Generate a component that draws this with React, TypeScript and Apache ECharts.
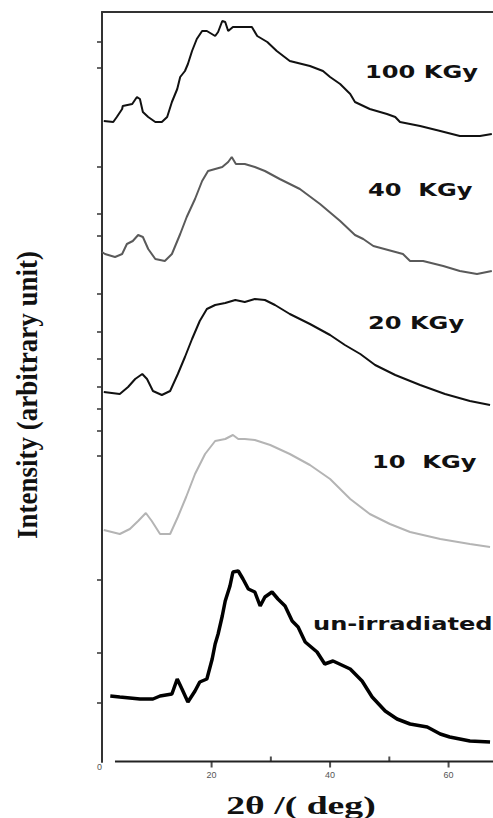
import React, { useEffect, useRef } from "react";
import * as echarts from "echarts";

// 2θ (deg) vs intensity (arbitrary, stacked with offsets)
const kgy100: [number, number][] = [
  [1.8, 641], [3.4, 640], [4.0, 645], [4.9, 653], [5.0, 656], [6.6, 658], [7.4, 665], [7.9, 663],
  [8.4, 650], [9.3, 645], [10.5, 640], [11.6, 640], [12.5, 645], [13.3, 660], [14.2, 673], [14.7, 685],
  [15.5, 691], [16.0, 698], [16.7, 711], [17.5, 723], [18.4, 731], [19.2, 731], [20.6, 726], [21.1, 730],
  [21.8, 741], [22.3, 740], [22.8, 731], [23.6, 735], [26.8, 735], [27.7, 726], [29.4, 720], [31.0, 711],
  [33.2, 701], [36.6, 696], [38.8, 691], [40.0, 685], [41.7, 678], [43.4, 668], [44.2, 660], [46.7, 653],
  [49.6, 648], [51.0, 645], [51.8, 640], [55.2, 636], [58.6, 631], [61.9, 626], [65.3, 626], [67.3, 628],
];

const kgy40: [number, number][] = [
  [1.5, 510], [2.0, 508], [3.7, 505], [4.9, 508], [5.7, 518], [6.7, 521], [7.6, 527], [8.4, 525],
  [9.3, 513], [10.5, 503], [12.1, 501], [13.3, 508], [14.7, 528], [15.8, 545], [17.2, 563], [18.4, 581],
  [19.4, 591], [20.6, 593], [21.8, 595], [22.8, 600], [23.4, 605], [24.1, 598], [25.6, 598], [27.3, 595],
  [29.0, 591], [31.5, 583], [34.9, 573], [38.3, 558], [41.7, 541], [44.2, 527], [45.6, 523], [47.3, 516],
  [52.3, 508], [53.5, 501], [55.7, 501], [59.1, 496], [61.9, 491], [64.8, 488], [67.3, 491],
];

const kgy20: [number, number][] = [
  [1.8, 370], [4.5, 368], [5.9, 375], [7.1, 383], [8.3, 388], [9.1, 383], [10.1, 371], [11.6, 367],
  [13.0, 371], [14.3, 388], [15.5, 405], [16.7, 423], [18.0, 441], [19.2, 453], [20.6, 457], [22.3, 459],
  [24.0, 462], [25.6, 460], [27.3, 463], [29.0, 462], [30.7, 457], [33.2, 448], [36.6, 438], [40.0, 427],
  [42.5, 417], [45.1, 408], [47.6, 397], [51.0, 387], [55.2, 377], [59.4, 368], [63.6, 361], [67.0, 357],
];

const kgy10: [number, number][] = [
  [1.8, 232], [4.5, 228], [6.2, 233], [7.6, 241], [8.9, 249], [9.9, 241], [11.3, 228], [13.0, 228],
  [14.3, 245], [15.7, 265], [17.2, 288], [18.9, 308], [20.6, 321], [22.3, 323], [23.6, 327], [24.5, 323],
  [25.6, 323], [27.3, 322], [29.9, 317], [33.2, 308], [36.6, 297], [40.0, 283], [43.4, 263], [46.7, 248],
  [50.1, 238], [53.5, 230], [58.6, 223], [63.6, 218], [67.0, 215],
];

const unirradiated: [number, number][] = [
  [2.9, 66], [4.5, 65], [7.9, 63], [10.1, 63], [11.3, 66], [13.3, 68], [14.2, 83], [15.0, 73],
  [16.0, 60], [17.2, 71], [18.0, 80], [19.2, 83], [20.1, 103], [20.6, 118], [21.1, 128], [21.8, 146],
  [22.3, 161], [23.1, 176], [23.6, 190], [24.5, 191], [25.3, 183], [26.2, 173], [27.3, 170], [28.2, 156],
  [29.0, 165], [30.2, 170], [31.2, 163], [32.4, 156], [33.6, 141], [34.6, 135], [35.8, 120], [37.8, 110],
  [39.1, 98], [40.5, 101], [43.4, 93], [45.4, 81], [47.1, 65], [49.3, 51], [51.3, 43], [53.5, 38],
  [56.4, 35], [58.6, 28], [60.2, 25], [63.6, 21], [67.0, 20],
];

const xAxisStart = 3.69;
const xMajorTicks = [20, 40, 60];
const xMinorTicks = [30, 50];
const xLabelValues = [20, 40, 60];
const yTickValues = [720, 694, 595, 548, 526, 468, 430, 403, 375, 353, 331, 306, 182, 109, 59];
const seriesNames = ["100 KGy", "40  KGy", "20 KGy", "10  KGy", "un-irradiated"];

export default function App() {
  const ref = useRef<HTMLDivElement>(null);
  useEffect(() => {
    if (!ref.current) return;
    const chart = echarts.init(ref.current, null, { renderer: "svg" });
    const xMin = 1.5;
    const xMax = 67.5;
    const lineSeries = (name: string, data: [number, number][], color: string, width: number) => ({
      name,
      type: "line",
      data,
      xAxisIndex: 0,
      yAxisIndex: 0,
      symbol: "none",
      showSymbol: false,
      clip: false,
      lineStyle: { color, width },
    });
    const labelStyle = { fontFamily: "DejaVu Sans", fontWeight: "bold", fontSize: 18, fill: "#111" };
    chart.setOption({
      animation: false,
      backgroundColor: "#ffffff",
      grid: [{ left: 102, right: 0, top: 12, height: 750 }],
      xAxis: [
        {
          type: "value", gridIndex: 0, position: "bottom", min: xMin, max: xMax,
          axisLine: { show: false }, axisTick: { show: false },
          axisLabel: { show: true, customValues: xLabelValues, fontSize: 9, color: "#555", margin: 8, fontFamily: "Liberation Sans" },
          splitLine: { show: false },
        },
        {
          type: "value", gridIndex: 0, position: "top", min: xMin, max: xMax,
          axisLine: { show: true, onZero: false, lineStyle: { color: "#333", width: 2 } },
          axisTick: { show: false }, axisLabel: { show: false }, splitLine: { show: false },
        },
      ],
      yAxis: [
        {
          type: "value", gridIndex: 0, min: 0, max: 750,
          axisLine: { show: true, onZero: false, lineStyle: { color: "#333", width: 2 } },
          axisTick: { show: true, customValues: yTickValues, length: 5, lineStyle: { color: "#333", width: 1.5 } },
          axisLabel: { show: true, customValues: [0], formatter: () => "0", fontSize: 9, color: "#555", margin: 0, verticalAlign: "top" },
          splitLine: { show: false },
        },
      ],
      series: [
        lineSeries(seriesNames[0], kgy100, "#111", 2),
        lineSeries(seriesNames[1], kgy40, "#5a5a5a", 2),
        lineSeries(seriesNames[2], kgy20, "#111", 2),
        lineSeries(seriesNames[3], kgy10, "#b4b4b4", 2),
        lineSeries(seriesNames[4], unirradiated, "#000", 3.5),
        // bottom axis line (offset from the y axis)
        {
          name: "x axis line",
          type: "line",
          data: [[xAxisStart, 0.5], [xMax, 0.5]],
          symbol: "none",
          clip: false,
          silent: true,
          z: 5,
          lineStyle: { color: "#222", width: 2 },
        },
        {
          name: "x major ticks",
          type: "scatter",
          data: xMajorTicks.map((v) => [v, 0.5]),
          symbol: "rect",
          symbolSize: [2, 6],
          symbolOffset: [0, 3],
          clip: false,
          silent: true,
          z: 5,
          itemStyle: { color: "#222" },
        },
        {
          name: "x minor ticks",
          type: "scatter",
          data: xMinorTicks.map((v) => [v, 0.5]),
          symbol: "rect",
          symbolSize: [2, 5],
          symbolOffset: [0, -2.5],
          clip: false,
          silent: true,
          z: 5,
          itemStyle: { color: "#222" },
        },
      ],
      graphic: [
        { type: "text", x: 365, y: 72, scaleX: 1.34, style: { ...labelStyle, text: seriesNames[0], textVerticalAlign: "middle" } },
        { type: "text", x: 368, y: 190, scaleX: 1.34, style: { ...labelStyle, text: seriesNames[1], textVerticalAlign: "middle" } },
        { type: "text", x: 368, y: 323, scaleX: 1.34, style: { ...labelStyle, text: seriesNames[2], textVerticalAlign: "middle" } },
        { type: "text", x: 372, y: 462, scaleX: 1.34, style: { ...labelStyle, text: seriesNames[3], textVerticalAlign: "middle" } },
        { type: "text", x: 313, y: 624, scaleX: 1.34, style: { ...labelStyle, text: seriesNames[4], textVerticalAlign: "middle" } },
        {
          type: "text", x: 301, y: 805, scaleX: 1.45,
          style: { text: "2θ /( deg)", fontFamily: "Liberation Serif", fontWeight: "bold", fontSize: 26, fill: "#111", textAlign: "center", textVerticalAlign: "middle" },
        },
        {
          type: "text", x: 27, y: 395, rotation: Math.PI / 2, scaleY: 1.1,
          style: { text: "Intensity (arbitrary unit)", fontFamily: "Liberation Serif", fontWeight: "bold", fontSize: 27, fill: "#111", textAlign: "center", textVerticalAlign: "middle" },
        },
      ],
    });
    return () => chart.dispose();
  }, []);
  return (
    <div
      ref={ref}
      style={{ position: "fixed", left: 0, top: 0, width: 493, height: 818, background: "#fff" }}
    />
  );
}
